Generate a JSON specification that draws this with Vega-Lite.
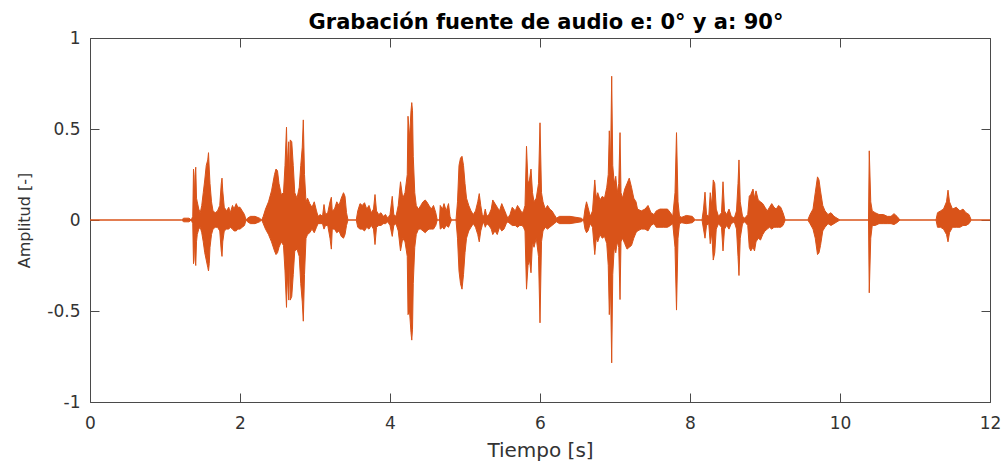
{
  "$schema": "https://vega.github.io/schema/vega-lite/v6.json",
  "width": 900,
  "height": 364,
  "autosize": {"type": "none"},
  "padding": {"left": 90, "top": 38, "right": 13, "bottom": 59},
  "background": "white",
  "title": {"text": "Grabación fuente de audio e: 0° y a: 90°", "font": "DejaVu Sans", "fontSize": 21, "fontWeight": "bold", "color": "#000000", "offset": -4, "dx": 6, "anchor": "middle"},
  "data": {"values": [
    {"t":0,"hi":0,"lo":0},{"t":1.22,"hi":0,"lo":0},{"t":1.25,"hi":0.01,"lo":-0.01},{"t":1.32,"hi":0.01,"lo":-0.01},{"t":1.35,"hi":0,"lo":0},
    {"t":1.37,"hi":0.02,"lo":-0.02},{"t":1.38,"hi":0.28,"lo":-0.24},{"t":1.39,"hi":0.12,"lo":-0.1},{"t":1.4,"hi":0.25,"lo":-0.22},{"t":1.41,"hi":0.29,"lo":-0.25},
    {"t":1.42,"hi":0.12,"lo":-0.12},{"t":1.43,"hi":0.1,"lo":-0.08},{"t":1.45,"hi":0.06,"lo":-0.05},{"t":1.47,"hi":0.04,"lo":-0.04},{"t":1.49,"hi":0.08,"lo":-0.07},
    {"t":1.51,"hi":0.15,"lo":-0.12},{"t":1.53,"hi":0.22,"lo":-0.18},{"t":1.55,"hi":0.3,"lo":-0.22},{"t":1.57,"hi":0.33,"lo":-0.26},{"t":1.58,"hi":0.37,"lo":-0.28},
    {"t":1.59,"hi":0.28,"lo":-0.24},{"t":1.6,"hi":0.2,"lo":-0.15},{"t":1.62,"hi":0.1,"lo":-0.08},{"t":1.64,"hi":0.05,"lo":-0.05},{"t":1.67,"hi":0.04,"lo":-0.04},
    {"t":1.7,"hi":0.05,"lo":-0.04},{"t":1.73,"hi":0.08,"lo":-0.06},{"t":1.75,"hi":0.2,"lo":-0.17},{"t":1.76,"hi":0.23,"lo":-0.2},{"t":1.77,"hi":0.16,"lo":-0.12},
    {"t":1.79,"hi":0.07,"lo":-0.06},{"t":1.82,"hi":0.05,"lo":-0.05},{"t":1.85,"hi":0.07,"lo":-0.05},{"t":1.87,"hi":0.04,"lo":-0.04},{"t":1.9,"hi":0.08,"lo":-0.05},
    {"t":1.92,"hi":0.06,"lo":-0.06},{"t":1.95,"hi":0.09,"lo":-0.06},{"t":1.97,"hi":0.07,"lo":-0.05},{"t":2.0,"hi":0.07,"lo":-0.05},{"t":2.03,"hi":0.05,"lo":-0.04},
    {"t":2.06,"hi":0.03,"lo":-0.03},{"t":2.08,"hi":0,"lo":0},{"t":2.1,"hi":0.01,"lo":-0.01},{"t":2.14,"hi":0.02,"lo":-0.02},{"t":2.2,"hi":0.02,"lo":-0.02},
    {"t":2.26,"hi":0.01,"lo":-0.01},{"t":2.29,"hi":0,"lo":0},{"t":2.31,"hi":0.02,"lo":-0.02},{"t":2.34,"hi":0.06,"lo":-0.05},{"t":2.38,"hi":0.1,"lo":-0.08},
    {"t":2.42,"hi":0.16,"lo":-0.12},{"t":2.46,"hi":0.25,"lo":-0.17},{"t":2.48,"hi":0.28,"lo":-0.19},{"t":2.5,"hi":0.27,"lo":-0.18},{"t":2.52,"hi":0.2,"lo":-0.15},
    {"t":2.55,"hi":0.14,"lo":-0.12},{"t":2.58,"hi":0.15,"lo":-0.14},{"t":2.6,"hi":0.3,"lo":-0.28},{"t":2.62,"hi":0.51,"lo":-0.48},{"t":2.63,"hi":0.3,"lo":-0.3},
    {"t":2.65,"hi":0.43,"lo":-0.44},{"t":2.66,"hi":0.22,"lo":-0.2},{"t":2.67,"hi":0.44,"lo":-0.44},{"t":2.69,"hi":0.43,"lo":-0.42},{"t":2.71,"hi":0.3,"lo":-0.3},
    {"t":2.73,"hi":0.15,"lo":-0.17},{"t":2.76,"hi":0.12,"lo":-0.16},{"t":2.79,"hi":0.18,"lo":-0.2},{"t":2.81,"hi":0.3,"lo":-0.35},{"t":2.83,"hi":0.4,"lo":-0.45},
    {"t":2.844,"hi":0.55,"lo":-0.556},{"t":2.86,"hi":0.25,"lo":-0.3},{"t":2.88,"hi":0.1,"lo":-0.1},{"t":2.9,"hi":0.12,"lo":-0.08},{"t":2.93,"hi":0.09,"lo":-0.07},
    {"t":2.96,"hi":0.07,"lo":-0.05},{"t":2.99,"hi":0.1,"lo":-0.07},{"t":3.02,"hi":0.05,"lo":-0.04},{"t":3.04,"hi":0.02,"lo":-0.02},{"t":3.07,"hi":0.03,"lo":-0.02},
    {"t":3.1,"hi":0.02,"lo":-0.02},{"t":3.12,"hi":0.085,"lo":-0.05},{"t":3.14,"hi":0.03,"lo":-0.03},{"t":3.17,"hi":0.04,"lo":-0.03},{"t":3.2,"hi":0.1,"lo":-0.1},
    {"t":3.218,"hi":0.125,"lo":-0.16},{"t":3.23,"hi":0.05,"lo":-0.05},{"t":3.26,"hi":0.06,"lo":-0.05},{"t":3.29,"hi":0.1,"lo":-0.07},{"t":3.32,"hi":0.08,"lo":-0.06},
    {"t":3.35,"hi":0.12,"lo":-0.09},{"t":3.38,"hi":0.15,"lo":-0.1},{"t":3.4,"hi":0.13,"lo":-0.08},{"t":3.42,"hi":0.04,"lo":-0.03},{"t":3.44,"hi":0,"lo":0},
    {"t":3.55,"hi":0,"lo":0},{"t":3.57,"hi":0.05,"lo":-0.04},{"t":3.6,"hi":0.09,"lo":-0.05},{"t":3.63,"hi":0.08,"lo":-0.05},{"t":3.66,"hi":0.095,"lo":-0.06},
    {"t":3.69,"hi":0.06,"lo":-0.04},{"t":3.72,"hi":0.08,"lo":-0.05},{"t":3.75,"hi":0.04,"lo":-0.03},{"t":3.78,"hi":0.06,"lo":-0.05},{"t":3.8,"hi":0.14,"lo":-0.135},
    {"t":3.82,"hi":0.05,"lo":-0.04},{"t":3.85,"hi":0.03,"lo":-0.03},{"t":3.88,"hi":0.04,"lo":-0.03},{"t":3.91,"hi":0.02,"lo":-0.02},{"t":3.94,"hi":0.03,"lo":-0.02},
    {"t":3.97,"hi":0.01,"lo":-0.01},{"t":4.0,"hi":0.03,"lo":-0.03},{"t":4.03,"hi":0.13,"lo":-0.09},{"t":4.05,"hi":0.03,"lo":-0.03},{"t":4.08,"hi":0.02,"lo":-0.02},
    {"t":4.11,"hi":0.08,"lo":-0.06},{"t":4.14,"hi":0.21,"lo":-0.17},{"t":4.17,"hi":0.12,"lo":-0.1},{"t":4.2,"hi":0.15,"lo":-0.12},{"t":4.23,"hi":0.25,"lo":-0.2},
    {"t":4.24,"hi":0.57,"lo":-0.52},{"t":4.26,"hi":0.45,"lo":-0.5},{"t":4.28,"hi":0.6,"lo":-0.62},{"t":4.29,"hi":0.645,"lo":-0.66},{"t":4.3,"hi":0.6,"lo":-0.6},
    {"t":4.31,"hi":0.35,"lo":-0.35},{"t":4.33,"hi":0.15,"lo":-0.15},{"t":4.35,"hi":0.08,"lo":-0.08},{"t":4.38,"hi":0.06,"lo":-0.05},{"t":4.41,"hi":0.08,"lo":-0.05},
    {"t":4.44,"hi":0.1,"lo":-0.06},{"t":4.47,"hi":0.11,"lo":-0.07},{"t":4.49,"hi":0.1,"lo":-0.06},{"t":4.52,"hi":0.08,"lo":-0.05},{"t":4.55,"hi":0.06,"lo":-0.05},
    {"t":4.58,"hi":0.08,"lo":-0.05},{"t":4.61,"hi":0.04,"lo":-0.03},{"t":4.63,"hi":0,"lo":0},{"t":4.66,"hi":0,"lo":0},{"t":4.67,"hi":0.08,"lo":-0.05},
    {"t":4.7,"hi":0.06,"lo":-0.04},{"t":4.72,"hi":0.09,"lo":-0.05},{"t":4.75,"hi":0.05,"lo":-0.03},{"t":4.78,"hi":0.09,"lo":-0.04},{"t":4.8,"hi":0.02,"lo":-0.02},
    {"t":4.82,"hi":0,"lo":0},{"t":4.88,"hi":0,"lo":0},{"t":4.9,"hi":0.1,"lo":-0.1},{"t":4.92,"hi":0.3,"lo":-0.28},{"t":4.94,"hi":0.34,"lo":-0.35},
    {"t":4.96,"hi":0.35,"lo":-0.38},{"t":4.98,"hi":0.3,"lo":-0.3},{"t":5.0,"hi":0.2,"lo":-0.18},{"t":5.02,"hi":0.12,"lo":-0.1},{"t":5.05,"hi":0.08,"lo":-0.06},
    {"t":5.08,"hi":0.05,"lo":-0.04},{"t":5.11,"hi":0.03,"lo":-0.02},{"t":5.14,"hi":0.05,"lo":-0.04},{"t":5.17,"hi":0.1,"lo":-0.08},{"t":5.19,"hi":0.145,"lo":-0.12},
    {"t":5.21,"hi":0.08,"lo":-0.06},{"t":5.23,"hi":0.03,"lo":-0.03},{"t":5.25,"hi":0.02,"lo":-0.01},{"t":5.27,"hi":0.06,"lo":-0.04},{"t":5.29,"hi":0.02,"lo":-0.02},
    {"t":5.32,"hi":0.03,"lo":-0.03},{"t":5.35,"hi":0.06,"lo":-0.05},{"t":5.37,"hi":0.11,"lo":-0.08},{"t":5.4,"hi":0.09,"lo":-0.06},{"t":5.43,"hi":0.07,"lo":-0.08},
    {"t":5.46,"hi":0.05,"lo":-0.04},{"t":5.49,"hi":0.09,"lo":-0.06},{"t":5.52,"hi":0.06,"lo":-0.05},{"t":5.55,"hi":0.03,"lo":-0.02},{"t":5.57,"hi":0.01,"lo":-0.01},
    {"t":5.6,"hi":0.03,"lo":-0.02},{"t":5.63,"hi":0.07,"lo":-0.03},{"t":5.67,"hi":0.05,"lo":-0.03},{"t":5.7,"hi":0.08,"lo":-0.04},{"t":5.73,"hi":0.06,"lo":-0.03},
    {"t":5.76,"hi":0.04,"lo":-0.03},{"t":5.78,"hi":0.05,"lo":-0.04},{"t":5.8,"hi":0.08,"lo":-0.06},{"t":5.82,"hi":0.405,"lo":-0.38},{"t":5.84,"hi":0.2,"lo":-0.25},
    {"t":5.86,"hi":0.22,"lo":-0.22},{"t":5.88,"hi":0.28,"lo":-0.29},{"t":5.9,"hi":0.15,"lo":-0.12},{"t":5.92,"hi":0.1,"lo":-0.15},{"t":5.95,"hi":0.12,"lo":-0.1},
    {"t":5.98,"hi":0.2,"lo":-0.2},{"t":6.0,"hi":0.534,"lo":-0.565},{"t":6.02,"hi":0.15,"lo":-0.12},{"t":6.04,"hi":0.1,"lo":-0.06},{"t":6.07,"hi":0.06,"lo":-0.04},
    {"t":6.1,"hi":0.08,"lo":-0.05},{"t":6.13,"hi":0.06,"lo":-0.04},{"t":6.16,"hi":0.05,"lo":-0.03},{"t":6.19,"hi":0.03,"lo":-0.02},{"t":6.22,"hi":0.01,"lo":-0.01},
    {"t":6.26,"hi":0.02,"lo":-0.02},{"t":6.4,"hi":0.02,"lo":-0.02},{"t":6.55,"hi":0.01,"lo":-0.01},{"t":6.58,"hi":0,"lo":0},{"t":6.6,"hi":0.06,"lo":-0.05},
    {"t":6.62,"hi":0.1,"lo":-0.07},{"t":6.64,"hi":0.07,"lo":-0.06},{"t":6.67,"hi":0.02,"lo":-0.02},{"t":6.7,"hi":0.05,"lo":-0.04},{"t":6.73,"hi":0.22,"lo":-0.19},
    {"t":6.75,"hi":0.12,"lo":-0.1},{"t":6.77,"hi":0.15,"lo":-0.12},{"t":6.8,"hi":0.11,"lo":-0.08},{"t":6.83,"hi":0.13,"lo":-0.1},{"t":6.86,"hi":0.12,"lo":-0.09},
    {"t":6.89,"hi":0.18,"lo":-0.13},{"t":6.91,"hi":0.25,"lo":-0.25},{"t":6.924,"hi":0.49,"lo":-0.52},{"t":6.94,"hi":0.3,"lo":-0.35},{"t":6.956,"hi":0.79,"lo":-0.785},
    {"t":6.97,"hi":0.3,"lo":-0.3},{"t":6.99,"hi":0.2,"lo":-0.15},{"t":7.01,"hi":0.24,"lo":-0.18},{"t":7.03,"hi":0.15,"lo":-0.12},{"t":7.05,"hi":0.2,"lo":-0.15},
    {"t":7.067,"hi":0.48,"lo":-0.437},{"t":7.08,"hi":0.15,"lo":-0.12},{"t":7.1,"hi":0.12,"lo":-0.1},{"t":7.13,"hi":0.17,"lo":-0.13},{"t":7.16,"hi":0.2,"lo":-0.16},
    {"t":7.19,"hi":0.23,"lo":-0.15},{"t":7.22,"hi":0.18,"lo":-0.14},{"t":7.25,"hi":0.12,"lo":-0.1},{"t":7.28,"hi":0.1,"lo":-0.07},{"t":7.3,"hi":0.06,"lo":-0.06},
    {"t":7.35,"hi":0.05,"lo":-0.05},{"t":7.4,"hi":0.06,"lo":-0.05},{"t":7.44,"hi":0.08,"lo":-0.06},{"t":7.48,"hi":0.04,"lo":-0.03},{"t":7.52,"hi":0.03,"lo":-0.02},
    {"t":7.55,"hi":0.05,"lo":-0.04},{"t":7.6,"hi":0.06,"lo":-0.04},{"t":7.65,"hi":0.06,"lo":-0.04},{"t":7.7,"hi":0.06,"lo":-0.04},{"t":7.74,"hi":0.04,"lo":-0.03},
    {"t":7.77,"hi":0.02,"lo":-0.02},{"t":7.8,"hi":0.15,"lo":-0.15},{"t":7.82,"hi":0.48,"lo":-0.495},{"t":7.84,"hi":0.1,"lo":-0.1},{"t":7.86,"hi":0.02,"lo":-0.02},
    {"t":7.89,"hi":0.015,"lo":-0.015},{"t":7.95,"hi":0.025,"lo":-0.02},{"t":8.03,"hi":0.02,"lo":-0.015},{"t":8.07,"hi":0,"lo":0},{"t":8.16,"hi":0,"lo":0},
    {"t":8.18,"hi":0.06,"lo":-0.05},{"t":8.2,"hi":0.153,"lo":-0.1},{"t":8.22,"hi":0.03,"lo":-0.03},{"t":8.25,"hi":0.02,"lo":-0.02},{"t":8.27,"hi":0.15,"lo":-0.13},
    {"t":8.29,"hi":0.08,"lo":-0.07},{"t":8.31,"hi":0.22,"lo":-0.22},{"t":8.33,"hi":0.2,"lo":-0.18},{"t":8.35,"hi":0.06,"lo":-0.05},{"t":8.38,"hi":0.02,"lo":-0.02},
    {"t":8.42,"hi":0.04,"lo":-0.04},{"t":8.44,"hi":0.21,"lo":-0.17},{"t":8.46,"hi":0.05,"lo":-0.05},{"t":8.49,"hi":0.03,"lo":-0.03},{"t":8.52,"hi":0.06,"lo":-0.05},
    {"t":8.55,"hi":0.02,"lo":-0.02},{"t":8.59,"hi":0.01,"lo":-0.01},{"t":8.62,"hi":0.05,"lo":-0.05},{"t":8.64,"hi":0.2,"lo":-0.2},{"t":8.653,"hi":0.33,"lo":-0.305},
    {"t":8.67,"hi":0.1,"lo":-0.1},{"t":8.7,"hi":0.02,"lo":-0.02},{"t":8.73,"hi":0.01,"lo":-0.01},{"t":8.77,"hi":0.03,"lo":-0.03},{"t":8.79,"hi":0.13,"lo":-0.15},
    {"t":8.81,"hi":0.14,"lo":-0.17},{"t":8.84,"hi":0.17,"lo":-0.15},{"t":8.86,"hi":0.12,"lo":-0.17},{"t":8.88,"hi":0.16,"lo":-0.12},{"t":8.91,"hi":0.11,"lo":-0.1},
    {"t":8.94,"hi":0.1,"lo":-0.11},{"t":8.97,"hi":0.09,"lo":-0.08},{"t":9.0,"hi":0.07,"lo":-0.06},{"t":9.03,"hi":0.05,"lo":-0.05},{"t":9.06,"hi":0.07,"lo":-0.04},
    {"t":9.09,"hi":0.09,"lo":-0.05},{"t":9.12,"hi":0.07,"lo":-0.04},{"t":9.15,"hi":0.06,"lo":-0.04},{"t":9.18,"hi":0.08,"lo":-0.04},{"t":9.21,"hi":0.07,"lo":-0.04},
    {"t":9.24,"hi":0.04,"lo":-0.03},{"t":9.27,"hi":0,"lo":0},{"t":9.57,"hi":0,"lo":0},{"t":9.6,"hi":0.03,"lo":-0.02},{"t":9.64,"hi":0.06,"lo":-0.05},
    {"t":9.67,"hi":0.15,"lo":-0.1},{"t":9.7,"hi":0.237,"lo":-0.19},{"t":9.72,"hi":0.22,"lo":-0.18},{"t":9.74,"hi":0.16,"lo":-0.14},{"t":9.77,"hi":0.08,"lo":-0.06},
    {"t":9.8,"hi":0.05,"lo":-0.04},{"t":9.84,"hi":0.03,"lo":-0.02},{"t":9.88,"hi":0.04,"lo":-0.03},{"t":9.92,"hi":0.02,"lo":-0.02},{"t":9.96,"hi":0.01,"lo":-0.01},
    {"t":10.0,"hi":0,"lo":0},{"t":10.38,"hi":0,"lo":0},{"t":10.39,"hi":0.38,"lo":-0.4},{"t":10.41,"hi":0.1,"lo":-0.1},{"t":10.43,"hi":0.05,"lo":-0.03},
    {"t":10.47,"hi":0.04,"lo":-0.03},{"t":10.52,"hi":0.03,"lo":-0.02},{"t":10.58,"hi":0.03,"lo":-0.02},{"t":10.63,"hi":0.02,"lo":-0.02},{"t":10.68,"hi":0.02,"lo":-0.02},
    {"t":10.72,"hi":0.035,"lo":-0.025},{"t":10.76,"hi":0.02,"lo":-0.015},{"t":10.8,"hi":0,"lo":0},{"t":11.28,"hi":0,"lo":0},{"t":11.3,"hi":0.04,"lo":-0.04},
    {"t":11.34,"hi":0.05,"lo":-0.04},{"t":11.38,"hi":0.06,"lo":-0.05},{"t":11.42,"hi":0.1,"lo":-0.08},{"t":11.44,"hi":0.164,"lo":-0.12},{"t":11.46,"hi":0.1,"lo":-0.07},
    {"t":11.5,"hi":0.06,"lo":-0.04},{"t":11.55,"hi":0.07,"lo":-0.04},{"t":11.6,"hi":0.05,"lo":-0.04},{"t":11.64,"hi":0.06,"lo":-0.03},{"t":11.68,"hi":0.04,"lo":-0.03},
    {"t":11.72,"hi":0.03,"lo":-0.02},{"t":11.75,"hi":0,"lo":0},{"t":12,"hi":0,"lo":0}
  ]},
  "layer": [
    {
      "mark": {"type": "area", "color": "#D95319", "stroke": "#D95319", "strokeWidth": 1, "fillOpacity": 1, "interpolate": "linear"},
      "encoding": {
        "x": {"field": "t", "type": "quantitative", "scale": {"domain": [0, 12], "nice": false, "zero": false},
              "axis": {"orient": "bottom", "values": [0, 2, 4, 6, 8, 10, 12], "title": "Tiempo [s]", "labelPadding": 22, "titlePadding": 9, "titleFontSize": 20, "labelFlush": false}},
        "y": {"field": "hi", "type": "quantitative", "scale": {"domain": [-1, 1], "nice": false},
              "axis": {"orient": "left", "values": [-1, -0.5, 0, 0.5, 1], "title": "Amplitud [-]", "labelExpr": "toString(datum.value)", "labelPadding": 19, "titlePadding": 14, "titleFont": "DejaVu Sans", "titleFontSize": 16, "labelFlush": false}},
        "y2": {"field": "lo"}
      }
    },
    {
      "mark": {"type": "area", "opacity": 0},
      "encoding": {
        "x": {"field": "t", "type": "quantitative", "axis": {"orient": "top", "values": [0, 2, 4, 6, 8, 10, 12], "labels": false, "title": null}},
        "y": {"field": "hi", "type": "quantitative", "axis": {"orient": "right", "values": [-1, -0.5, 0, 0.5, 1], "labels": false, "title": null}},
        "y2": {"field": "lo"}
      }
    }
  ],
  "resolve": {"axis": {"x": "independent", "y": "independent"}},
  "config": {
    "view": {"stroke": null},
    "font": "DejaVu Sans",
    "axis": {"grid": false, "domainColor": "#4a4a4a", "domainWidth": 1, "tickColor": "#4a4a4a", "tickSize": -9, "tickWidth": 1, "labelColor": "#333333", "labelFont": "DejaVu Sans", "labelFontSize": 17, "titleFont": "DejaVu Sans", "titleFontSize": 17, "titleFontWeight": "normal", "titleColor": "#333333"}
  }
}
